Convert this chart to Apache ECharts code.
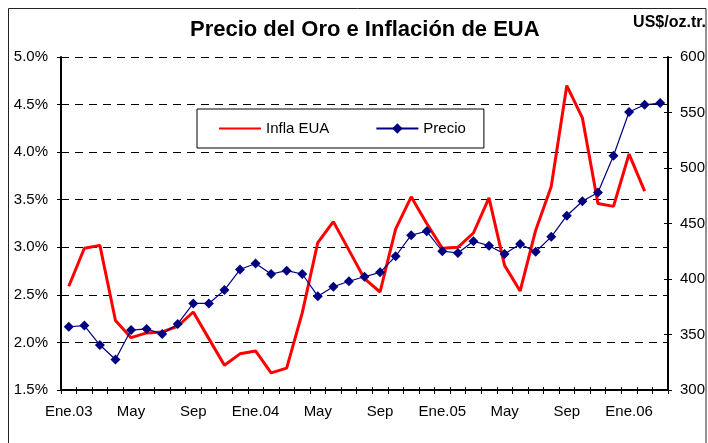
<!DOCTYPE html>
<html>
<head>
<meta charset="utf-8">
<script src="https://cdn.jsdelivr.net/npm/echarts@6/dist/echarts.min.js"></script>
<style>html,body{margin:0;padding:0;background:#fff}#c{width:708px;height:443px}</style>
</head>
<body>
<div id="c"></div>
<script>
var months = ['Ene.03','Feb','Mar','Abr','May','Jun','Jul','Ago','Sep','Oct','Nov','Dic',
  'Ene.04','Feb','Mar','Abr','May','Jun','Jul','Ago','Sep','Oct','Nov','Dic',
  'Ene.05','Feb','Mar','Abr','May','Jun','Jul','Ago','Sep','Oct','Nov','Dic',
  'Ene.06','Feb','Mar'];
var inflaEUA = [2.59, 2.99, 3.02, 2.23, 2.05, 2.10, 2.11, 2.17, 2.32, 2.04, 1.76, 1.88,
  1.91, 1.68, 1.73, 2.31, 3.05, 3.27, 2.97, 2.67, 2.53, 3.19, 3.53, 3.25,
  2.99, 3.00, 3.15, 3.52, 2.81, 2.54, 3.18, 3.64, 4.70, 4.36, 3.46, 3.43,
  3.98, 3.59];
var precio = [357, 358, 340.5, 327.5, 354, 355, 350.5, 359.5, 378, 378, 390, 408.5,
  414, 404.5, 407.5, 404.5, 384.5, 393, 398, 402, 406, 420.5, 439.5, 443,
  425, 423.5, 434, 430, 422.5, 431.5, 424.5, 438, 457, 470, 478, 511,
  550.5, 557, 558.5];
var titleText = 'Precio del Oro e Inflación de EUA';
var unitText = 'US$/oz.tr.';

var FONT = "'Liberation Sans', Arial, sans-serif";
var chart = echarts.init(document.getElementById('c'), null, {renderer: 'canvas'});
chart.setOption({
  backgroundColor: '#fff',
  animation: false,
  textStyle: {fontFamily: FONT, color: '#000'},
  graphic: [{
    type: 'rect', silent: true,
    shape: {x: 8.5, y: 8.5, width: 697.5, height: 460},
    style: {fill: 'none', stroke: '#222', lineWidth: 1}
  }],
  title: [{
    text: titleText, left: 190, top: 19, padding: 0,
    textStyle: {fontFamily: FONT, fontSize: 22, fontWeight: 'bold', color: '#000'}
  }, {
    text: unitText, right: 2, top: 15, padding: 0,
    textStyle: {fontFamily: FONT, fontSize: 16, fontWeight: 'bold', color: '#000'}
  }],
  legend: {
    left: 197, top: 109,
    padding: [12, 18, 12, 21],
    itemWidth: 42, itemHeight: 13, itemGap: 46,
    borderColor: '#000', borderWidth: 1, backgroundColor: '#fff',
    textStyle: {fontFamily: FONT, fontSize: 15, color: '#000'},
    data: [
      {name: 'Infla EUA', itemStyle: {color: 'rgba(0,0,0,0)', borderWidth: 0, opacity: 0}},
      {name: 'Precio'}
    ]
  },
  grid: {left: 61, right: 40, top: 57, bottom: 53, containLabel: false},
  xAxis: [{
    type: 'category', data: months, boundaryGap: true,
    axisLine: {lineStyle: {color: '#000', width: 2}},
    axisTick: {show: true, interval: 0, length: 4, lineStyle: {color: '#000', width: 1}},
    axisLabel: {interval: 3, margin: 14, fontSize: 15, color: '#000', fontFamily: FONT},
    splitLine: {show: false}
  }, {
    type: 'category', data: months, boundaryGap: true, position: 'bottom',
    axisLine: {show: false},
    axisTick: {show: true, inside: true, interval: 0, length: 3, lineStyle: {color: '#000', width: 1}},
    axisLabel: {show: false},
    splitLine: {show: false}
  }],
  yAxis: [{
    type: 'value', position: 'left', min: 1.5, max: 5, interval: 0.5,
    axisLine: {show: true, lineStyle: {color: '#000', width: 2}},
    axisTick: {show: true, length: 4, lineStyle: {color: '#000'}},
    axisLabel: {margin: 13, fontSize: 15, color: '#000', fontFamily: FONT,
      formatter: function (v) { return v.toFixed(1) + '%'; }},
    splitLine: {show: true, lineStyle: {color: '#000', type: [8, 6], width: 1}}
  }, {
    type: 'value', position: 'right', min: 300, max: 600, interval: 50,
    axisLine: {show: true, lineStyle: {color: '#000', width: 2}},
    axisTick: {show: true, length: 4, lineStyle: {color: '#000'}},
    axisLabel: {margin: 12, fontSize: 15, color: '#000', fontFamily: FONT},
    splitLine: {show: false}
  }, {
    type: 'value', position: 'right', min: 300, max: 600, interval: 50,
    axisLine: {show: false},
    axisTick: {show: true, inside: true, length: 4, lineStyle: {color: '#000'}},
    axisLabel: {show: false},
    splitLine: {show: false}
  }],
  series: [{
    name: 'Infla EUA', type: 'line', data: inflaEUA,
    xAxisIndex: 0, yAxisIndex: 0,
    symbol: 'none', smooth: false,
    lineStyle: {color: '#ff0000', width: 3},
    itemStyle: {color: '#ff0000'},
    z: 3
  }, {
    name: 'Precio', type: 'line', data: precio,
    xAxisIndex: 0, yAxisIndex: 1,
    symbol: 'diamond', symbolSize: 10, showAllSymbol: true,
    lineStyle: {color: '#000080', width: 1.2},
    itemStyle: {color: '#000080'},
    z: 4
  }]
});
</script>
</body>
</html>
